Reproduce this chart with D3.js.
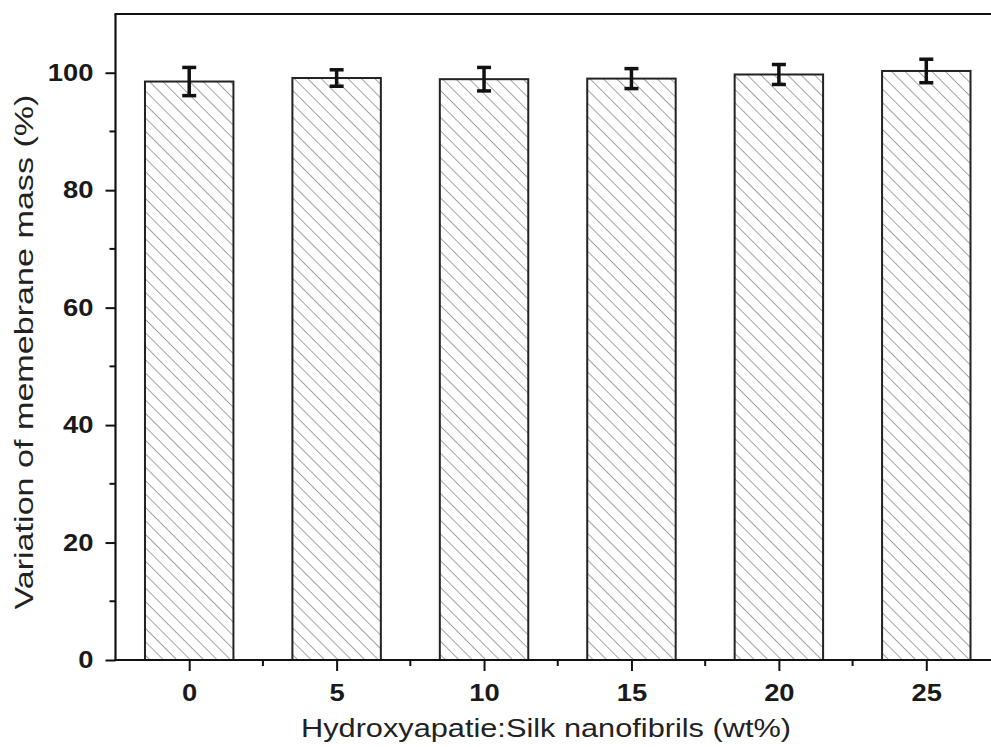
<!DOCTYPE html>
<html>
<head>
<meta charset="utf-8">
<script src="https://cdn.jsdelivr.net/npm/d3@7"></script>
<style>
  html, body { margin: 0; padding: 0; background: #fff; }
  svg { display: block; font-family: Arial, "Liberation Sans", sans-serif; }
</style>
</head>
<body>
<div id="chart"></div>
<script>
// data
const categories = [0, 5, 10, 15, 20, 25];
const massValues = [98.5, 99.1, 98.9, 99.0, 99.7, 100.3];
const massErrors = [2.4, 1.4, 2.0, 1.7, 1.7, 2.0];
const yTicks = [0, 20, 40, 60, 80, 100];

const width = 991, height = 747;
const margin = { left: 115.5, top: 14, bottom: 87 };
const plotRight = 1000; // frame runs past the right edge of the picture

const svg = d3.select('#chart').append('svg')
  .attr('width', width)
  .attr('height', height);

// hatch pattern
const defs = svg.append('defs');
const pat = defs.append('pattern')
  .attr('id', 'hatch')
  .attr('patternUnits', 'userSpaceOnUse')
  .attr('width', 9.5)
  .attr('height', 9.5)
  .attr('patternTransform', 'rotate(-45)');
pat.append('line')
  .attr('x1', 0).attr('y1', 0)
  .attr('x2', 0).attr('y2', 9.5)
  .attr('stroke', '#5a5a5a')
  .attr('stroke-width', 1.1);

const x = d3.scaleLinear()
  .domain([-2.5, 27.5])
  .range([margin.left, plotRight]);
const y = d3.scaleLinear()
  .domain([0, 110])
  .range([height - margin.bottom, margin.top]);

const step = x(5) - x(0);
const barW = step * 0.6;

// bars
svg.append('g').selectAll('rect')
  .data(categories)
  .join('rect')
  .attr('x', (d) => x(d) - barW / 2)
  .attr('y', (d, i) => y(massValues[i]))
  .attr('width', barW)
  .attr('height', (d, i) => y(0) - y(massValues[i]))
  .attr('fill', 'url(#hatch)')
  .attr('stroke', '#222')
  .attr('stroke-width', 2);

// error bars
const eb = svg.append('g').attr('stroke', '#111').attr('stroke-width', 3.5);
categories.forEach((c, i) => {
  const cx = x(c);
  const yt = y(massValues[i] + massErrors[i]);
  const yb = y(massValues[i] - massErrors[i]);
  eb.append('line').attr('x1', cx).attr('x2', cx).attr('y1', yt).attr('y2', yb);
  eb.append('line').attr('x1', cx - 7).attr('x2', cx + 7).attr('y1', yt).attr('y2', yt);
  eb.append('line').attr('x1', cx - 7).attr('x2', cx + 7).attr('y1', yb).attr('y2', yb);
});

// y axis
const yAxis = svg.append('g')
  .attr('transform', `translate(${margin.left},0)`)
  .call(d3.axisLeft(y).tickValues(yTicks).tickSize(10).tickPadding(12).tickFormat(d3.format('d')));
yAxis.append('g').selectAll('line')
  .data(d3.range(10, 110, 20))
  .join('line')
  .attr('x1', 0).attr('x2', -6)
  .attr('y1', (d) => y(d)).attr('y2', (d) => y(d))
  .attr('stroke', '#111');

// x axis
const xAxis = svg.append('g')
  .attr('transform', `translate(0,${y(0)})`)
  .call(d3.axisBottom(x).tickValues(categories).tickSize(11).tickPadding(13).tickFormat(d3.format('d')));
xAxis.append('g').selectAll('line')
  .data(categories.map((c) => c + 2.5))
  .join('line')
  .attr('x1', (d) => x(d)).attr('x2', (d) => x(d))
  .attr('y1', 0).attr('y2', 6)
  .attr('stroke', '#111');

[yAxis, xAxis].forEach((a) => {
  a.select('.domain').attr('stroke', '#111').attr('stroke-width', 2.2);
  a.selectAll('line').attr('stroke', '#111').attr('stroke-width', 2);
  a.selectAll('.tick text')
    .attr('font-size', 24)
    .attr('font-weight', 'bold')
    .attr('fill', '#1a1a1a')
    .attr('font-family', 'Arial, "Liberation Sans", sans-serif')
    .each(function () {
      // the source picture is a little stretched sideways
      const len = this.getComputedTextLength();
      d3.select(this).attr('textLength', len * 1.14).attr('lengthAdjust', 'spacingAndGlyphs');
    });
});
yAxis.select('.domain').attr('d', `M0,${y(0) + 1}V${margin.top}`);
xAxis.select('.domain').attr('d', `M${margin.left - 1},0H${plotRight}`);

// top frame
svg.append('line')
  .attr('x1', margin.left - 1).attr('x2', plotRight)
  .attr('y1', margin.top).attr('y2', margin.top)
  .attr('stroke', '#111').attr('stroke-width', 2.2);

// axis titles
svg.append('text')
  .attr('x', 546)
  .attr('y', 737)
  .attr('text-anchor', 'middle')
  .attr('font-size', 25)
  .attr('fill', '#222')
  .attr('textLength', 490)
  .attr('lengthAdjust', 'spacingAndGlyphs')
  .text('Hydroxyapatie:Silk nanofibrils (wt%)');

svg.append('text')
  .attr('transform', 'translate(33,352) rotate(-90)')
  .attr('text-anchor', 'middle')
  .attr('font-size', 25)
  .attr('fill', '#222')
  .attr('textLength', 515)
  .attr('lengthAdjust', 'spacingAndGlyphs')
  .text('Variation of memebrane mass (%)');
</script>
</body>
</html>
